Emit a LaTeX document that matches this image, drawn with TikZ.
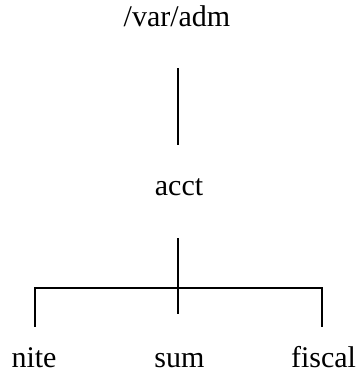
\documentclass[tikz,border=0pt]{standalone}
\usepackage{fontspec}
\setmainfont{Liberation Serif}
\begin{document}
\begin{tikzpicture}[x=1pt,y=1pt,
  lbl/.style={anchor=base,inner sep=0pt,font=\fontsize{30}{32}\selectfont},
  edge/.style={line width=1.3pt,line cap=rect}]
\useasboundingbox (0,0) rectangle (358,375);
\fill[white] (0,0) rectangle (358,375);
% nodes (y = 375 - pixel row)
\node[lbl] (root) at (177,348) {/var/adm};
\node[lbl] (acct) at (179,179) {acct};
\node[lbl] (nite) at (34,8) {nite};
\node[lbl] (sum) at (179.5,8) {sum};
\node[lbl] (fiscal) at (323.5,8) {fiscal};
% connector points
\coordinate (r1) at (178,306);
\coordinate (r2) at (178,231);
\coordinate (a1) at (178,136);
\coordinate (a2) at (178,62);
\coordinate (hl) at (35,87);
\coordinate (hr) at (322,87);
\coordinate (nl) at (35,49);
\coordinate (fr) at (322,49);
\draw[edge] (r1) -- (r2);
\draw[edge] (a1) -- (a2);
\draw[edge] (nl) -- (hl) -- (hr) -- (fr);
\end{tikzpicture}
\end{document}
